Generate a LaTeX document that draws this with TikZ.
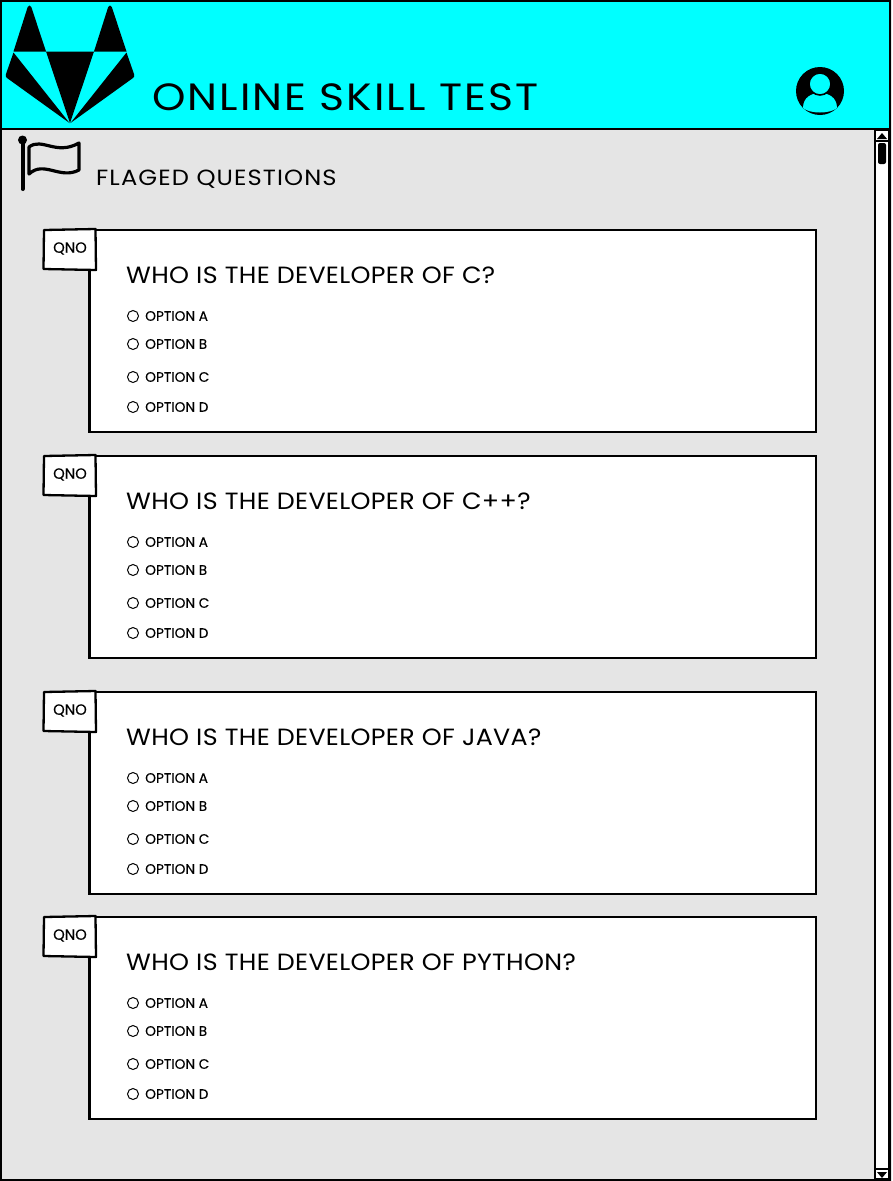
\documentclass[tikz,border=0pt]{standalone}
\usepackage{fontspec}
\setmainfont{Poppins}
\definecolor{headcyan}{RGB}{0,255,255}
\definecolor{pagegray}{RGB}{229,229,229}
\tikzset{
  cardbox/.style={draw=black,fill=white,line width=2.3pt},
  qnobox/.style={draw=black,fill=white,line width=2.3pt,line join=round},
  qnotext/.style={font=\fontsize{14.8}{16}\selectfont\addfontfeatures{FakeBold=0.2}},
  questext/.style={anchor=west,inner sep=0pt,font=\fontsize{23.5}{25}\selectfont\addfontfeatures{FakeStretch=1.08,LetterSpace=1.4}},
  opttext/.style={anchor=west,inner sep=0pt,font=\fontsize{13.7}{15}\selectfont\addfontfeatures{FakeBold=0.2}},
  radiobtn/.style={circle,draw=black,fill=white,line width=1pt,inner sep=0pt,minimum size=11pt},
}
\begin{document}
\begin{tikzpicture}[x=1pt,y=-1pt]
\useasboundingbox (0,0) rectangle (892,1181);
\fill[pagegray] (0,0) rectangle (892,1181);
\draw[fill=headcyan,line width=2pt] (1,1) rectangle (890,129);
\draw[line width=2pt] (1,129) -- (1,1180) -- (890,1180) -- (890,129);
% scrollbar
\draw[fill=white,line width=2pt] (875,130) rectangle (889,1179);
\draw[line width=1.5pt] (875,141) -- (889,141);
\draw[line width=1.5pt] (875,1169) -- (889,1169);
\fill (882,133) -- (887,139) -- (877,139) -- cycle;
\fill (882,1178) -- (887,1172) -- (877,1172) -- cycle;
\fill[rounded corners=2pt] (878,143) rectangle (886,164);
% logo
\fill (46,51.5) -- (13.5,51.5) -- (27.7,7) .. controls (28.5,5) and (30.5,5) .. (31.3,7) -- cycle;
\fill (126.5,51.5) -- (94,51.5) -- (108.2,7) .. controls (109,5) and (111,5) .. (111.8,7) -- cycle;
\fill (46,51.5) -- (94,51.5) -- (70,123) -- cycle;
\fill (13.5,52.5) -- (6,74) .. controls (5.5,76) and (5.5,77) .. (7,78) -- (69.5,123) -- cycle;
\fill (126.5,52.5) -- (134,74) .. controls (134.5,76) and (134.5,77) .. (133,78) -- (70.5,123) -- cycle;
% user icon
\fill (820,91) circle (24);
\fill[headcyan] (803,108) .. controls (803,97) and (812,93) .. (820,93) .. controls (828,93) and (837,97) .. (837,108) .. controls (830,114) and (810,114) .. (803,108) -- cycle;
\draw[fill=headcyan,line width=1.6pt] (820,84) circle (11);
\node[anchor=west,inner sep=0pt,font=\fontsize{38}{40}\selectfont\addfontfeatures{FakeStretch=1.12,LetterSpace=5.4}] (apptitle) at (152,97) {ONLINE SKILL TEST};
% flag
\draw[line width=4pt,line cap=round] (22.5,142) -- (22.5,189);
\fill (22.5,140) circle (4.5);
\draw[line width=3.2pt,line join=round] (29,147) .. controls (42,137) and (56,156) .. (79,143) -- (79,170) .. controls (60,180) and (44,160) .. (29,174) -- cycle;
\node[anchor=west,inner sep=0pt,font=\fontsize{22}{24}\selectfont\addfontfeatures{FakeStretch=1.1,LetterSpace=5}] (flagtext) at (96,179) {FLAGED QUESTIONS};
% card 1
\draw[cardbox] (89.5,230) rectangle (816,432);
\draw[qnobox] (44,230) -- (95.5,229) -- (96,270) -- (43.5,269) -- cycle;
\node[qnotext] (qno1) at (70,248.5) {QNO};
\node[questext] (ques1) at (126,275) {WHO IS THE DEVELOPER OF C?};
\node[radiobtn] (radio1a) at (133,316) {};
\node[radiobtn] (radio1b) at (133,344) {};
\node[radiobtn] (radio1c) at (133,377) {};
\node[radiobtn] (radio1d) at (133,407) {};
\node[opttext] (opt1a) at (145,316) {OPTION A};
\node[opttext] (opt1b) at (145,344) {OPTION B};
\node[opttext] (opt1c) at (145,377) {OPTION C};
\node[opttext] (opt1d) at (145,407) {OPTION D};
% card 2
\draw[cardbox] (89.5,456) rectangle (816,658);
\draw[qnobox] (44,456) -- (95.5,455) -- (96,496) -- (43.5,495) -- cycle;
\node[qnotext] (qno2) at (70,474.5) {QNO};
\node[questext] (ques2) at (126,501) {WHO IS THE DEVELOPER OF C++?};
\node[radiobtn] (radio2a) at (133,542) {};
\node[radiobtn] (radio2b) at (133,570) {};
\node[radiobtn] (radio2c) at (133,603) {};
\node[radiobtn] (radio2d) at (133,633) {};
\node[opttext] (opt2a) at (145,542) {OPTION A};
\node[opttext] (opt2b) at (145,570) {OPTION B};
\node[opttext] (opt2c) at (145,603) {OPTION C};
\node[opttext] (opt2d) at (145,633) {OPTION D};
% card 3
\draw[cardbox] (89.5,692) rectangle (816,894);
\draw[qnobox] (44,692) -- (95.5,691) -- (96,732) -- (43.5,731) -- cycle;
\node[qnotext] (qno3) at (70,710.5) {QNO};
\node[questext] (ques3) at (126,737) {WHO IS THE DEVELOPER OF JAVA?};
\node[radiobtn] (radio3a) at (133,778) {};
\node[radiobtn] (radio3b) at (133,806) {};
\node[radiobtn] (radio3c) at (133,839) {};
\node[radiobtn] (radio3d) at (133,869) {};
\node[opttext] (opt3a) at (145,778) {OPTION A};
\node[opttext] (opt3b) at (145,806) {OPTION B};
\node[opttext] (opt3c) at (145,839) {OPTION C};
\node[opttext] (opt3d) at (145,869) {OPTION D};
% card 4
\draw[cardbox] (89.5,917) rectangle (816,1119);
\draw[qnobox] (44,917) -- (95.5,916) -- (96,957) -- (43.5,956) -- cycle;
\node[qnotext] (qno4) at (70,935.5) {QNO};
\node[questext] (ques4) at (126,962) {WHO IS THE DEVELOPER OF PYTHON?};
\node[radiobtn] (radio4a) at (133,1003) {};
\node[radiobtn] (radio4b) at (133,1031) {};
\node[radiobtn] (radio4c) at (133,1064) {};
\node[radiobtn] (radio4d) at (133,1094) {};
\node[opttext] (opt4a) at (145,1003) {OPTION A};
\node[opttext] (opt4b) at (145,1031) {OPTION B};
\node[opttext] (opt4c) at (145,1064) {OPTION C};
\node[opttext] (opt4d) at (145,1094) {OPTION D};
\end{tikzpicture}
\end{document}
